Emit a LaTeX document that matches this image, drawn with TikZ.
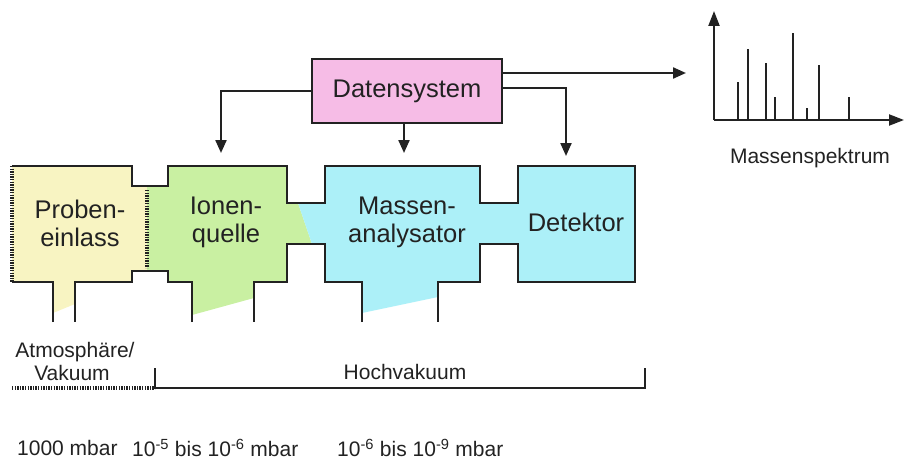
\documentclass[tikz,border=0pt]{standalone}
\usepackage{fontspec}
\setmainfont{Liberation Sans}
\usetikzlibrary{arrows.meta,calc}
\definecolor{yel}{HTML}{F8F4C2}
\definecolor{grn}{HTML}{C9F0A2}
\definecolor{blu}{HTML}{ACF0F8}
\definecolor{pnk}{HTML}{F6BCE6}
\definecolor{ln}{HTML}{222222}
\definecolor{txt}{HTML}{222222}
\begin{document}
\begin{tikzpicture}[x=1pt,y=-1pt,
 wall/.style={draw=ln,line width=2.4pt,line join=miter},
 dotwall/.style={draw=ln,line width=4.5pt,dash pattern=on 1.3pt off 1.3pt},
 arr/.style={draw=ln,line width=2.2pt,-{Triangle[length=13pt,width=11pt]}},
 axarr/.style={draw=ln,line width=2.2pt,-{Triangle[length=15pt,width=11pt]}},
 big/.style={font=\fontsize{25.5}{28}\selectfont,text=txt,align=center,inner sep=0pt},
 small/.style={font=\fontsize{21}{21}\selectfont,text=txt,align=center,inner sep=0pt},
 bar/.style={draw=ln,line width=2.3pt},
 dsbox/.style={draw=ln,line width=2.4pt,fill=pnk,minimum width=190pt,minimum height=64pt,font=\fontsize{25.5}{28}\selectfont,text=txt}]
\useasboundingbox (0,0) rectangle (904,460);

% fills
\fill[yel] (12,166)--(132,166)--(132,186)--(147,186)--(147,271)--(132,271)--(132,282)--(75,282)--(75,304)--(53,313)--(53,282)--(12,282)--cycle;
\fill[grn] (147,186)--(168,186)--(168,166)--(287,166)--(287,203)--(298,203)--(312,244)--(287,244)--(287,282)--(254,282)--(254,298)--(192,315)--(192,282)--(168,282)--(168,271)--(147,271)--cycle;
\fill[blu] (298,203)--(325,203)--(325,166)--(480,166)--(480,203)--(518,203)--(518,166)--(635,166)--(635,282)--(518,282)--(518,244)--(480,244)--(480,282)--(438,282)--(438,297)--(362,313)--(362,282)--(325,282)--(325,244)--(312,244)--cycle;

% walls
\draw[wall] (12,166)--(132,166)--(132,186)--(168,186)--(168,166)--(287,166)--(287,203)--(325,203)--(325,166)--(480,166)--(480,203)--(518,203)--(518,166)--(635,166)--(635,282)--(518,282)--(518,244)--(480,244)--(480,282)--(438,282)--(438,322);
\draw[wall] (362,322)--(362,282)--(325,282)--(325,244)--(287,244)--(287,282)--(254,282)--(254,322);
\draw[wall] (192,322)--(192,282)--(168,282)--(168,271)--(132,271)--(132,282)--(75,282)--(75,322);
\draw[wall] (53,322)--(53,282)--(12,282);
\draw[dotwall] (12,166)--(12,282);
\draw[dotwall] (147,190)--(147,268);

% labels
\node[big] (pe) at (80,223) {Proben-\\einlass};
\node[big] (iq) at (226,222) {Ionen-\\quelle};
\node[big] (ma) at (407,222) {Massen-\\analysator};
\node[big] (de) at (576,222) {Detektor};

% Datensystem
\node[dsbox] (ds) at (407,91) {Datensystem};
\coordinate (iqin) at (221,153);
\coordinate (main) at (404,153);
\coordinate (dein) at (566,156);
\coordinate (dsr) at (502,88);
\coordinate (spin) at (686,73);
\draw[arr] (ds.west) -| (iqin);
\draw[arr] (ds.south -| main) -- (main);
\draw[arr] (ds.east |- dsr) -| (dein);
\draw[arr] (ds.east |- spin) -- (spin);

% spectrum
\coordinate (sp0) at (714,120);
\coordinate (spy) at (714,11);
\coordinate (spx) at (904,120);
\draw[axarr] (sp0) -- (spy);
\draw[axarr] (sp0) -- (spx);
\foreach \x/\h in {738/82,748/49,766/63,775/97,793/33,807/108,819/65,849/97}
  \draw[bar] (\x,120) -- (\x,\h);
\node[small] (ms) at (810,158) {Massenspektrum};

% pressure regions
\node[small] (atm) at (75,352) {Atmosphäre/};
\node[small] (vak) at (72,373) {Vakuum};
\node[small] (hv) at (405,372) {Hochvakuum};
\coordinate (b0) at (12,388);
\coordinate (b1) at (155,388);
\coordinate (b1t) at (155,368);
\coordinate (b2) at (645,388);
\coordinate (b2t) at (645,368);
\draw[draw=ln,line width=4.5pt,dash pattern=on 1.3pt off 1.3pt] (b0) -- (b1);
\draw[draw=ln,line width=2.2pt] (b1t) -- (b1) -- (b2) -- (b2t);

\node[small,anchor=west] (p1) at (17,448) {1000 mbar};
\node[small,anchor=west] (p2) at (132,448) {10\textsuperscript{-5} bis 10\textsuperscript{-6} mbar};
\node[small,anchor=west] (p3) at (337,448) {10\textsuperscript{-6} bis 10\textsuperscript{-9} mbar};
\end{tikzpicture}
\end{document}
